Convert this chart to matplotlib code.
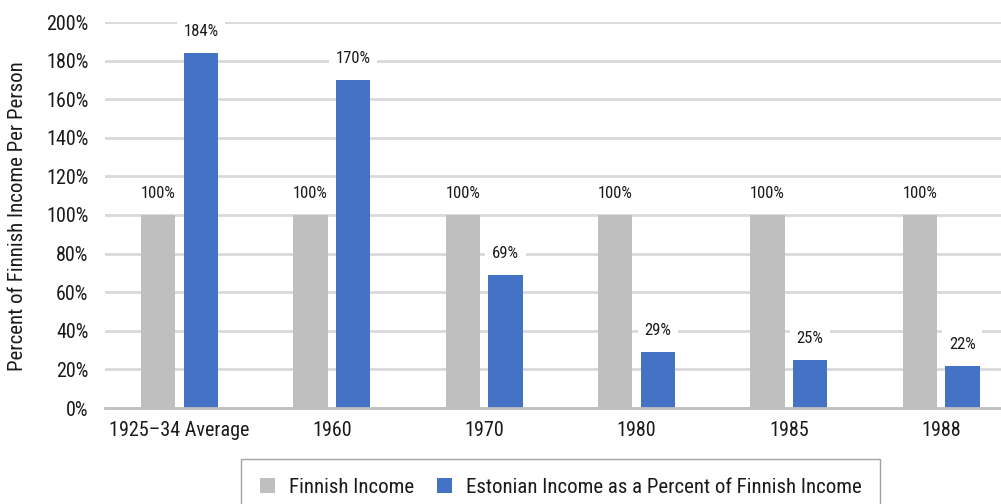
import matplotlib
matplotlib.use("Agg")
import matplotlib.pyplot as plt
import numpy as np

# data
categories = ["1925\u201334 Average", "1960", "1970", "1980", "1985", "1988"]
finnish = [100, 100, 100, 100, 100, 100]
estonian = [184, 170, 69, 29, 25, 22]
series_names = ["Finnish Income", "Estonian Income as a Percent of Finnish Income"]

GRAY = "#BFBFBF"
BLUE = "#4472C4"
TEXT = "#1a1a1a"

plt.rcParams["font.family"] = ["Roboto Condensed", "DejaVu Sans"]

fig = plt.figure(figsize=(10.01, 5.04), dpi=100)
W, H = 1001, 504
ax = fig.add_axes([105 / W, 96 / H, 896 / W, 386 / H])

x = np.arange(len(categories))
bw = 0.225
off = 0.14
b1 = ax.bar(x - off, finnish, bw, color=GRAY, label=series_names[0], zorder=3)
b2 = ax.bar(x + off, estonian, bw, color=BLUE, label=series_names[1], zorder=3)

for bars, vals in [(b1, finnish), (b2, estonian)]:
    for rect, v in zip(bars, vals):
        ax.annotate(f"{v}%", (rect.get_x() + rect.get_width() / 2, v),
                    xytext=(0, 10), textcoords="offset points",
                    ha="center", va="bottom", fontsize=12, color=TEXT, zorder=5,
                    bbox=dict(boxstyle="square,pad=0.4", facecolor="white", edgecolor="none"))

ax.set_xlim(-0.49, -0.49 + 896 / 152.3)
ax.set_ylim(0, 200)
ax.set_yticks(np.arange(0, 201, 20))
ax.set_yticklabels([f"{t}%" for t in range(0, 201, 20)])
ax.set_xticks(x)
ax.set_xticklabels(categories)
ax.tick_params(axis="both", length=0, labelsize=14.5, colors=TEXT)
ax.tick_params(axis="y", pad=12)
ax.tick_params(axis="x", pad=9)
ax.yaxis.grid(True, color="#D9D9D9", linewidth=2, zorder=0)
ax.set_axisbelow(True)
for s in ["top", "right", "left"]:
    ax.spines[s].set_visible(False)
ax.spines["bottom"].set_color(GRAY)
ax.spines["bottom"].set_linewidth(2)
ax.spines["bottom"].set_zorder(4)

fig.text(18 / W, 1 - 216 / H, "Percent of Finnish Income Per Person", rotation=90,
         ha="center", va="center", fontsize=15, color=TEXT)

leg = fig.legend(handles=[b1, b2], loc="upper left", bbox_to_anchor=(241 / W, 1 - 459 / H),
                 ncol=2, fontsize=15, frameon=True, fancybox=False, handlelength=0.72,
                 handleheight=0.72, handletextpad=0.67, columnspacing=1.1,
                 borderpad=0.9, borderaxespad=0)
leg.get_frame().set_edgecolor("#8c8c8c")
leg.get_frame().set_linewidth(1)
for t in leg.get_texts():
    t.set_color(TEXT)

fig.savefig("out.png", dpi=100)
